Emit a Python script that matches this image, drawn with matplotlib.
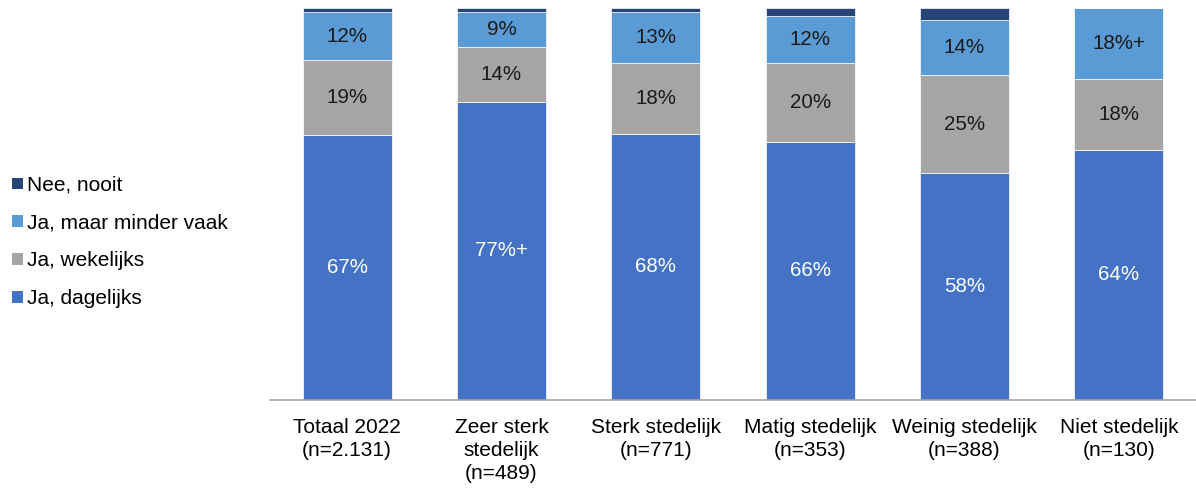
import numpy as np
import matplotlib
matplotlib.use("Agg")
from matplotlib import pyplot as plt
from matplotlib.patches import Patch

plt.rcParams['font.family'] = ['Liberation Sans', 'DejaVu Sans']

# categories and values (percent)
categories = ['Totaal 2022\n(n=2.131)', 'Zeer sterk\nstedelijk\n(n=489)', 'Sterk stedelijk\n(n=771)',
              'Matig stedelijk\n(n=353)', 'Weinig stedelijk\n(n=388)', 'Niet stedelijk\n(n=130)']
dagelijks = [67.5, 76.1, 67.9, 65.9, 57.9, 63.9]
wekelijks = [19.2, 13.9, 18.1, 20.1, 25.0, 17.9]
minder = [12.2, 9.0, 12.9, 12.0, 14.0, 18.2]
nooit = [1.1, 1.0, 1.1, 2.0, 3.1, 0.0]

lab_dagelijks = ['67%', '77%+', '68%', '66%', '58%', '64%']
lab_wekelijks = ['19%', '14%', '18%', '20%', '25%', '18%']
lab_minder = ['12%', '9%', '13%', '12%', '14%', '18%+']

series = ['Ja, dagelijks', 'Ja, wekelijks', 'Ja, maar minder vaak', 'Nee, nooit']
colors = ['#4472C4', '#A5A5A5', '#5B9BD5', '#264478']
txtcol = ['white', '#1a1a1a', '#1a1a1a', None]

fig = plt.figure(figsize=(11.96, 4.88), dpi=100)
ax = fig.add_axes([270/1196, 88/488, 926/1196, 392/488])

x = np.arange(len(categories))
bottom = np.zeros(len(categories))
values = [dagelijks, wekelijks, minder, nooit]
labels = [lab_dagelijks, lab_wekelijks, lab_minder, None]
for vals, col, labs, tc in zip(values, colors, labels, txtcol):
    vals = np.array(vals)
    ax.bar(x, vals, bottom=bottom, width=0.575, color=col, edgecolor='white', linewidth=0.5)
    if labs is not None:
        for xi, b, v, t in zip(x, bottom, vals, labs):
            ax.text(xi, b + v / 2, t, ha='center', va='center', color=tc, fontsize=14.8)
    bottom += vals

ax.set_xlim(-0.5, 5.5)
ax.set_ylim(0, 100)
ax.set_xticks(x)
ax.set_xticklabels(categories, fontsize=15, linespacing=1.25)
ax.tick_params(axis='x', length=0, pad=13)
ax.set_yticks([])
for s in ['top', 'right', 'left']:
    ax.spines[s].set_visible(False)
ax.spines['bottom'].set_color('#A6A6A6')
ax.spines['bottom'].set_linewidth(1.2)

handles = [Patch(facecolor=c, edgecolor='none') for c in colors[::-1]]
fig.legend(handles, series[::-1], loc='center left', bbox_to_anchor=(0.0, 1 - 242/488),
           frameon=False, fontsize=15, handlelength=0.5, handleheight=0.5,
           handletextpad=0.2, labelspacing=0.9, borderpad=0, borderaxespad=0.6)

fig.savefig('out.png', dpi=100)
